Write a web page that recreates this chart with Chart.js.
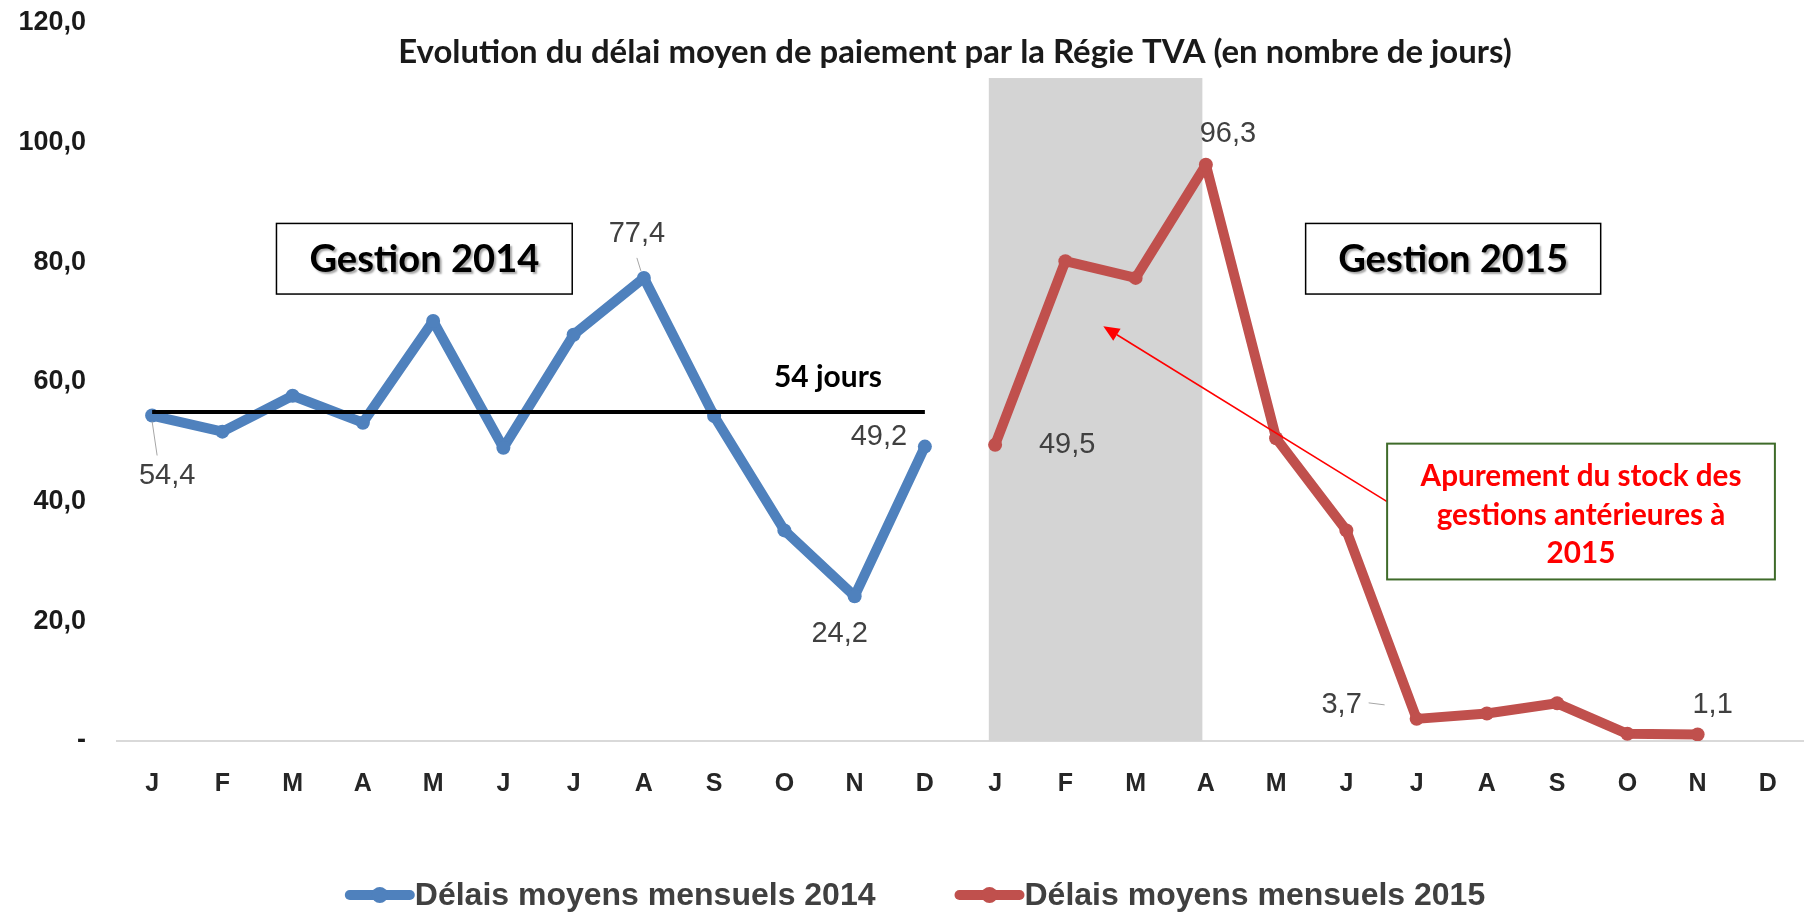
<!DOCTYPE html>
<html><head><meta charset="utf-8">
<script src="https://cdn.jsdelivr.net/npm/chart.js@4.4.1/dist/chart.umd.min.js"></script>
<style>html,body{margin:0;padding:0;background:#fff;overflow:hidden}#wrap{width:1810px;height:916px;position:relative}</style>
</head><body><div id="wrap"><canvas id="c" width="1810" height="916"></canvas></div>
<script>
// ---- data ----
const months = ['J','F','M','A','M','J','J','A','S','O','N','D'];
const categories = months.concat(months);
const delais2014 = [54.4, 51.7, 57.7, 53.2, 70.2, 49.0, 67.9, 77.4, 54.3, 35.2, 24.2, 49.2];
const delais2015 = [49.5, 80.2, 77.4, 96.3, 50.6, 35.2, 3.7, 4.6, 6.3, 1.2, 1.1, null];
const referenceValue = 55;           // black "54 jours" line, as drawn
const yTicks = [0, 20, 40, 60, 80, 100, 120];
const seriesNames = ['Délais moyens mensuels 2014', 'Délais moyens mensuels 2015'];
const titleText = 'Evolution du délai moyen de paiement par la Régie TVA (en nombre de jours)';
const referenceLabel = '54 jours';
const boxLabels = ['Gestion 2014', 'Gestion 2015'];
const noteLines = ['Apurement du stock des', 'gestions antérieures à', '2015'];
const labeled2014 = [0, 7, 10, 11];
const labeled2015 = [0, 3, 6, 10];

// ---- styles / layout ----
const BLUE = '#4F81BD', RED = '#C0504D';
const SANS = "'Liberation Sans', Arial, sans-serif";
const CAL = "Lato, 'Open Sans', sans-serif";
const fmt = v => v.toFixed(1).replace('.', ',');
const labelOffsets2014 = {0:[15,60], 7:[-7,-44], 10:[-15,38], 11:[-46,-10]};
const labelOffsets2015 = {0:[72,0], 3:[22,-31], 6:[-75,-14], 10:[15,-29]};

const s2014 = delais2014.concat(Array(12).fill(null));
const s2015 = Array(12).fill(null).concat(delais2015);
const sRef = Array(12).fill(referenceValue).concat(Array(12).fill(null));

function fitFont(ctx, text, weight, family, targetW) {
  ctx.font = `${weight} 40px ${family}`;
  const w = ctx.measureText(text).width;
  const size = 40 * targetW / w;
  ctx.font = `${weight} ${size.toFixed(2)}px ${family}`;
  return size;
}

const overlay = {
  id: 'overlay',
  beforeDatasetsDraw(chart) {
    const {ctx} = chart, xs = chart.scales.x, ys = chart.scales.y;
    const x0 = xs.getPixelForValue(11.91), x1 = xs.getPixelForValue(14.95);
    const y0 = ys.getPixelForValue(110.8), y1 = ys.getPixelForValue(0);
    ctx.save(); ctx.fillStyle = '#d4d4d4'; ctx.fillRect(x0, y0, x1 - x0, y1 - y0); ctx.restore();
  },
  afterDatasetsDraw(chart) {
    const {ctx} = chart, xs = chart.scales.x, ys = chart.scales.y;
    const X = v => xs.getPixelForValue(v), Y = v => ys.getPixelForValue(v);
    ctx.save();
    // data labels
    ctx.font = `29px ${SANS}`; ctx.fillStyle = '#404040';
    ctx.textAlign = 'center'; ctx.textBaseline = 'middle';
    const drawLabels = (vals, idxs, offs, base) => {
      idxs.forEach(i => {
        const px = X(base + i), py = Y(vals[i]);
        const [dx, dy] = offs[i];
        ctx.fillText(fmt(vals[i]), px + dx, py + dy);
      });
    };
    drawLabels(delais2014, labeled2014, labelOffsets2014, 0);
    drawLabels(delais2015, labeled2015, labelOffsets2015, 12);
    // leader lines
    ctx.strokeStyle = '#a6a6a6'; ctx.lineWidth = 1;
    ctx.beginPath();
    ctx.moveTo(X(0), Y(delais2014[0]) + 6); ctx.lineTo(X(0) + 5, Y(delais2014[0]) + 40);
    ctx.moveTo(X(12 + 6) - 48, Y(delais2015[6]) - 16); ctx.lineTo(X(12 + 6) - 32, Y(delais2015[6]) - 14);
    ctx.moveTo(X(7) - 3, Y(delais2014[7]) - 7); ctx.lineTo(X(7) - 7, Y(delais2014[7]) - 20);
    ctx.stroke();

    // reference label
    ctx.fillStyle = '#000';
    fitFont(ctx, referenceLabel, 'bold', CAL, 108);
    ctx.fillText(referenceLabel, X(9.62), Y(60.7));

    // Gestion boxes
    const boxes = [[1.77, 5.98], [16.42, 20.62]];
    boxes.forEach((b, k) => {
      const bx0 = X(b[0]), bx1 = X(b[1]), by0 = Y(86.5), by1 = Y(74.7);
      ctx.fillStyle = '#fff'; ctx.fillRect(bx0, by0, bx1 - bx0, by1 - by0);
      ctx.strokeStyle = '#000'; ctx.lineWidth = 1.5; ctx.strokeRect(bx0, by0, bx1 - bx0, by1 - by0);
      fitFont(ctx, boxLabels[k], 'bold', CAL, 230);
      ctx.save();
      ctx.shadowColor = 'rgba(0,0,0,0.35)'; ctx.shadowOffsetX = 2; ctx.shadowOffsetY = 2; ctx.shadowBlur = 2;
      ctx.fillStyle = '#000'; ctx.fillText(boxLabels[k], (bx0 + bx1) / 2, (by0 + by1) / 2 + 1);
      ctx.restore();
    });

    // arrow
    const tx = X(17.58), ty = Y(40.0), hx = X(13.54), hy = Y(69.3);
    ctx.strokeStyle = '#ff0000'; ctx.fillStyle = '#ff0000'; ctx.lineWidth = 1.6;
    const ang = Math.atan2(hy - ty, hx - tx), L = 16, W = 7;
    ctx.beginPath(); ctx.moveTo(tx, ty); ctx.lineTo(hx - Math.cos(ang) * L, hy - Math.sin(ang) * L); ctx.stroke();
    ctx.beginPath(); ctx.moveTo(hx, hy);
    ctx.lineTo(hx - Math.cos(ang) * L - Math.sin(ang) * W, hy - Math.sin(ang) * L + Math.cos(ang) * W);
    ctx.lineTo(hx - Math.cos(ang) * L + Math.sin(ang) * W, hy - Math.sin(ang) * L - Math.cos(ang) * W);
    ctx.closePath(); ctx.fill();

    // note box
    const nx0 = X(17.58), nx1 = X(23.1), ny0 = Y(49.7), ny1 = Y(27.0);
    ctx.fillStyle = '#fff'; ctx.fillRect(nx0, ny0, nx1 - nx0, ny1 - ny0);
    ctx.strokeStyle = '#3f6b2a'; ctx.lineWidth = 2; ctx.strokeRect(nx0, ny0, nx1 - nx0, ny1 - ny0);
    ctx.fillStyle = '#ff0000';
    const size = fitFont(ctx, noteLines[0], 'bold', CAL, 321);
    ctx.font = `bold ${size.toFixed(2)}px ${CAL}`;
    [44.2, 37.7, 31.3].forEach((v, i) => ctx.fillText(noteLines[i], X(20.34), Y(v)));

    // title
    ctx.fillStyle = '#1a1a1a';
    fitFont(ctx, titleText, 'bold', CAL, 1114);
    ctx.fillText(titleText, 955, 52);

    // legend
    ctx.font = `bold 32px ${SANS}`;
    const tw = seriesNames.map(t => ctx.measureText(t).width);
    const mw = 70, gap = 0, itemGap = 79;
    const total = mw + gap + tw[0] + itemGap + mw + gap + tw[1];
    let lx = 915 - total / 2; const ly = 895;
    [BLUE, RED].forEach((col, i) => {
      ctx.strokeStyle = col; ctx.lineWidth = 10; ctx.lineCap = 'round';
      ctx.beginPath(); ctx.moveTo(lx + 5, ly); ctx.lineTo(lx + mw - 5, ly); ctx.stroke();
      ctx.fillStyle = col; ctx.beginPath(); ctx.arc(lx + mw / 2, ly, 8, 0, Math.PI * 2); ctx.fill();
      ctx.fillStyle = '#404040'; ctx.textAlign = 'left';
      ctx.fillText(seriesNames[i], lx + mw + gap, ly + 1);
      lx += mw + gap + tw[i] + itemGap;
    });
    ctx.restore();
  }
};

new Chart(document.getElementById('c'), {
  type: 'line',
  data: {
    labels: categories,
    datasets: [
      {label: 'ref', data: sRef, borderColor: '#000', borderWidth: 4, pointRadius: 0, borderCapStyle: 'butt'},
      {label: seriesNames[0], data: s2014, borderColor: BLUE, backgroundColor: BLUE, borderWidth: 10,
       pointRadius: 7, pointBorderWidth: 0, borderJoinStyle: 'round', borderCapStyle: 'round'},
      {label: seriesNames[1], data: s2015, borderColor: RED, backgroundColor: RED, borderWidth: 10,
       pointRadius: 7, pointBorderWidth: 0, borderJoinStyle: 'round', borderCapStyle: 'round'}
    ]
  },
  options: {
    responsive: false, animation: false,
    layout: {padding: {top: 23, right: 0, left: 0, bottom: 0}},
    plugins: {legend: {display: false}, tooltip: {enabled: false}},
    scales: {
      x: {
        offset: true,
        grid: {display: false, drawTicks: false},
        border: {display: true, color: '#d9d9d9', width: 2},
        ticks: {font: {family: SANS, size: 25, weight: 'bold'}, color: '#262626', padding: 28, autoSkip: false, maxRotation: 0},
        afterFit: s => { s.height = 175; }
      },
      y: {
        min: 0, max: 120,
        afterBuildTicks: s => { s.ticks = yTicks.map(v => ({value: v})); },
        grid: {display: false, drawTicks: false},
        border: {display: false},
        ticks: {callback: v => v === 0 ? '-' : fmt(v), font: {family: SANS, size: 27, weight: 'bold'}, color: '#1a1a1a', padding: 31},
        afterFit: s => { s.width = 117; s.paddingTop = 0; s.paddingBottom = 0; }
      }
    }
  },
  plugins: [overlay]
});
</script></body></html>
